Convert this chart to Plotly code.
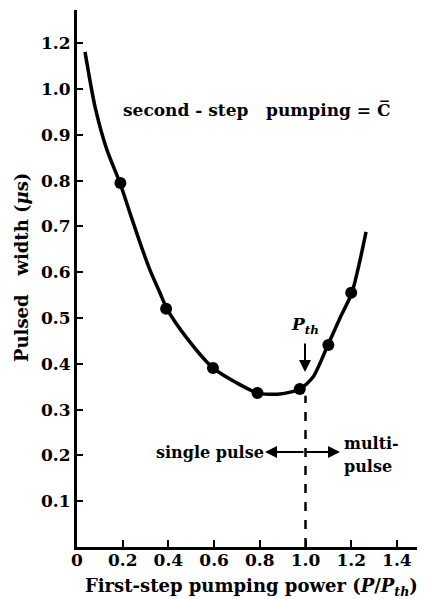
import plotly.graph_objects as go

# measured points
pts_x = [0.19, 0.39, 0.595, 0.79, 0.975, 1.10, 1.20]
pts_y = [0.795, 0.52, 0.391, 0.336, 0.345, 0.441, 0.555]

# smooth fitted curve
curve_x = [0.035, 0.079, 0.131, 0.188, 0.232, 0.276, 0.319, 0.363, 0.394, 0.481, 0.595,
           0.70, 0.792, 0.888, 0.976, 1.033, 1.098, 1.151, 1.203, 1.239, 1.265]
curve_y = [1.081, 0.961, 0.867, 0.795, 0.729, 0.664, 0.605, 0.555, 0.520, 0.456, 0.391,
           0.358, 0.336, 0.334, 0.345, 0.371, 0.441, 0.50, 0.555, 0.627, 0.688]

x_tickvals = [0, 0.2, 0.4, 0.6, 0.8, 1.0, 1.2, 1.4]
x_ticktext = ["0", "0.2", "0.4", "0.6", "0.8", "1.0", "1.2", "1.4"]
y_tickvals = [0.1, 0.2, 0.3, 0.4, 0.5, 0.6, 0.7, 0.8, 0.9, 1.0, 1.1]
y_ticktext = ["0.1", "0.2", "0.3", "0.4", "0.5", "0.6", "0.7", "0.8", "0.9", "1.0", "1.2"]

FONT = "DejaVu Serif"

fig = go.Figure()
fig.add_trace(go.Scatter(x=curve_x, y=curve_y, mode="lines",
                         line=dict(color="black", width=3.5, shape="spline", smoothing=0.7),
                         hoverinfo="skip", showlegend=False))
fig.add_trace(go.Scatter(x=pts_x, y=pts_y, mode="markers",
                         marker=dict(color="black", size=12), showlegend=False))

# dashed threshold line
fig.add_shape(type="line", x0=1.0, x1=1.0, y0=0.0, y1=0.33, xref="x", yref="y",
              line=dict(color="black", width=2.5, dash="dash"))

# page body has an 8px margin: figure is placed at (8, 8)
fig.update_layout(
    width=417, height=591,
    margin=dict(l=69, r=0, t=2, b=52),
    paper_bgcolor="white", plot_bgcolor="white",
    font=dict(family=FONT, color="black", size=16),
    xaxis=dict(range=[0, 1.523], showgrid=False, zeroline=False, showline=True,
               linecolor="black", linewidth=3, ticks="inside", ticklen=7, tickwidth=2,
               tickcolor="black", tickvals=x_tickvals, ticktext=x_ticktext,
               ticklabelstandoff=-4,
               tickfont=dict(family=FONT, size=17, weight="bold")),
    yaxis=dict(range=[0, 1.1725], showgrid=False, zeroline=False, showline=True,
               linecolor="black", linewidth=3, ticks="inside", ticklen=6, tickwidth=2,
               tickcolor="black", tickvals=y_tickvals, ticktext=y_ticktext,
               tickfont=dict(family=FONT, size=17, weight="bold")),
)

# positions given in page pixels -> plot-domain fractions
def px(xp):
    return (xp - 77) / 348

def py(yp):
    return (547 - yp) / 537

def text(t, x, y, size=16, xanchor="center", angle=0):
    fig.add_annotation(xref="paper", yref="paper", showarrow=False,
                       x=px(x), y=py(y), text=t, xanchor=xanchor, yanchor="middle",
                       textangle=angle,
                       font=dict(family=FONT, size=size, weight="bold", color="black"))

text("second - step   pumping = C\u0305", 257, 110, size=17)
text("<i>P</i><sub><i>th</i></sub>", 305, 325, size=17)
text("single pulse", 210, 452, size=16)
text("multi-", 342, 443, size=16, xanchor="left")
text("pulse", 342, 467, size=16, xanchor="left")
text("First-step pumping power (<i>P</i>/<i>P</i><sub><i>th</i></sub>)", 251, 587, size=18)
text("Pulsed   width (<i>μ</i>s)", 21, 268, size=18, angle=-90)

# arrows: threshold arrow and single/multi arrows
def arrow(x0, y0, x1, y1):
    fig.add_annotation(xref="x domain", yref="y domain", axref="x domain", ayref="y domain",
                       x=px(x1), y=py(y1), ax=px(x0), ay=py(y0), text="",
                       showarrow=True, arrowhead=2, arrowsize=1.2, arrowwidth=2,
                       arrowcolor="black")

arrow(305, 342, 305, 372)
arrow(305, 452, 265, 452)
arrow(305, 452, 340, 452)

fig.write_html("out.html")
